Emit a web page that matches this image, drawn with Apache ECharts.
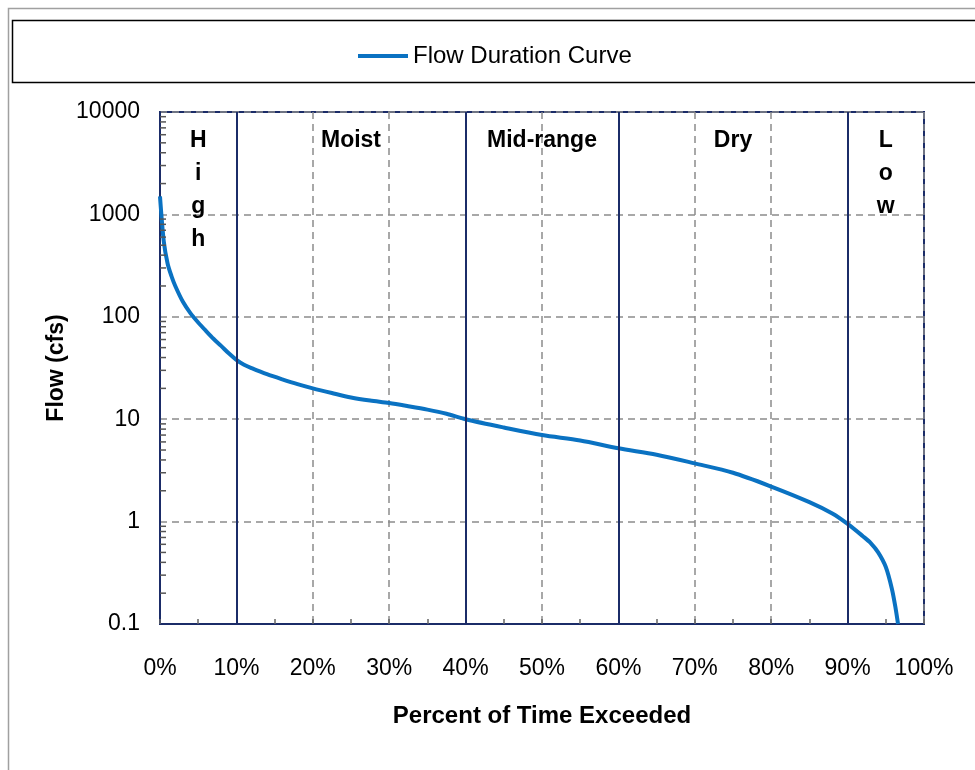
<!DOCTYPE html>
<html>
<head>
<meta charset="utf-8">
<script src="https://cdn.jsdelivr.net/npm/echarts@6/dist/echarts.min.js"></script>
<style>
  html, body { margin: 0; padding: 0; background: #ffffff; }
  #chart { width: 975px; height: 770px; }
</style>
</head>
<body>
<div id="chart"></div>
<script>
// ---- Data ----
const percentExceeded = [0, 0.5, 1, 1.5, 2, 3, 4, 5, 6, 7, 8, 9, 10, 11, 12, 14, 16, 18, 20, 22.5, 25, 27.5, 30, 32.5, 35, 37.5, 40, 45, 50, 55, 60, 65, 70, 75, 80, 85, 88, 90, 92, 93, 94, 95, 95.8, 96.3, 96.6];
const flowCfs =         [1500, 540, 330, 250, 200, 140, 108, 88, 73, 61, 52, 44, 38, 34, 31.5, 27.5, 24.5, 22, 20, 18, 16.3, 15.2, 14.4, 13.4, 12.4, 11.3, 10, 8.3, 7.0, 6.2, 5.2, 4.5, 3.7, 3.0, 2.2, 1.55, 1.2, 0.95, 0.72, 0.62, 0.5, 0.36, 0.22, 0.14, 0.1];

const seriesName = 'Flow Duration Curve';
const zoneBounds = [10, 40, 60, 90];
const zoneNames = ['High', 'Moist', 'Mid-range', 'Dry', 'Low'];
const zoneCenters = [5, 25, 50, 75, 95];
const zoneVertical = [true, false, false, false, true];
const yMinorTickValues = [];
[0.1, 1, 10, 100, 1000].forEach(d => { for (let k = 2; k <= 9; k++) yMinorTickValues.push(d * k); });

const FONT = 'Liberation Sans, Arial, Helvetica, sans-serif';
const NAVY = '#1b2c68';
const GRIDGRAY = '#8c8c8c';

const chart = echarts.init(document.getElementById('chart'), null, { renderer: 'canvas' });

const option = {
  animation: false,
  backgroundColor: '#ffffff',
  textStyle: { fontFamily: FONT },
  grid: {
    left: 160, right: 51, top: 112, bottom: 146,
    show: true, borderColor: NAVY, borderWidth: 2, backgroundColor: 'transparent'
  },
  legend: {
    left: 353, top: 39,
    icon: 'rect', itemWidth: 50, itemHeight: 4, itemGap: 6,
    textStyle: { fontSize: 24, color: '#000', fontFamily: FONT },
    data: [seriesName]
  },
  xAxis: {
    type: 'value', min: 0, max: 100, interval: 10,
    name: 'Percent of Time Exceeded', nameLocation: 'middle', nameGap: 80,
    nameTextStyle: { fontSize: 24, fontWeight: 'bold', color: '#000', fontFamily: FONT },
    axisLine: { show: true, onZero: false, lineStyle: { color: NAVY, width: 2 } },
    axisTick: { show: true, inside: true, length: 5, lineStyle: { color: '#666', width: 1.5 } },
    minorTick: { show: true, splitNumber: 2, length: 5, lineStyle: { color: '#666', width: 1.5 } },
    axisLabel: { formatter: '{value}%', fontSize: 23, color: '#000', margin: 33, fontFamily: FONT },
    splitLine: { show: true, lineStyle: { color: GRIDGRAY, width: 1.5, type: [7, 5] } }
  },
  yAxis: {
    type: 'log', logBase: 10, min: 0.1, max: 10000,
    name: 'Flow (cfs)', nameLocation: 'middle', nameGap: 92, nameMoveOverlap: false,
    nameTextStyle: { fontSize: 23, fontWeight: 'bold', color: '#000', fontFamily: FONT },
    axisLine: { show: true, lineStyle: { color: NAVY, width: 2 } },
    axisTick: { show: false },
    axisLabel: {
      fontSize: 23, color: '#000', margin: 20, fontFamily: FONT,
      formatter: v => (v < 1 ? Number(v).toFixed(1) : String(Math.round(v)))
    },
    splitLine: { show: true, lineStyle: { color: GRIDGRAY, width: 1.5, type: [7, 5] } }
  },
  series: [
    {
      name: seriesName,
      type: 'line',
      data: percentExceeded.map((p, i) => [p, flowCfs[i]]),
      smooth: 0.3,
      showSymbol: false,
      symbol: 'none',
      lineStyle: { color: '#0a72c2', width: 4 },
      itemStyle: { color: '#0a72c2' },
      z: 3,
      markLine: {
        silent: true, symbol: 'none', animation: false,
        label: { show: false },
        lineStyle: { color: NAVY, width: 2, type: 'solid' },
        data: zoneBounds.map(b => ({ xAxis: b }))
      }
    },
    {
      name: 'yMinorTicks',
      type: 'custom',
      silent: true,
      data: yMinorTickValues.map(v => [0, v]),
      renderItem: (params, api) => {
        const pt = api.coord([api.value(0), api.value(1)]);
        return {
          type: 'line',
          shape: { x1: pt[0], y1: pt[1], x2: pt[0] + 6, y2: pt[1] },
          style: { stroke: '#555', lineWidth: 1.5 }
        };
      },
      z: 4
    }
  ]
};

chart.setOption(option);

// Zone labels and frames
const topY = chart.convertToPixel({ gridIndex: 0 }, [0, 10000])[1];
const graphics = [
  { type: 'rect', silent: true, shape: { x: 8.5, y: 8.5, width: 1000, height: 1000 },
    style: { fill: 'none', stroke: '#a0a0a0', lineWidth: 1.5 }, z: -10 },
  { type: 'rect', silent: true, shape: { x: 12.5, y: 20.5, width: 1000, height: 62 },
    style: { fill: 'none', stroke: '#000', lineWidth: 1.5 }, z: -9 }
];
zoneNames.forEach((name, i) => {
  const x = chart.convertToPixel({ gridIndex: 0 }, [zoneCenters[i], 1])[0];
  const txt = zoneVertical[i] ? name.split('').join('\n') : name;
  graphics.push({
    type: 'text', silent: true, x: x, y: topY + 12,
    style: {
      text: txt, fill: '#000', font: 'bold 23px ' + FONT,
      align: 'center', verticalAlign: 'top', lineHeight: 33
    },
    z: 10
  });
});
chart.setOption({ graphic: graphics });
</script>
</body>
</html>
